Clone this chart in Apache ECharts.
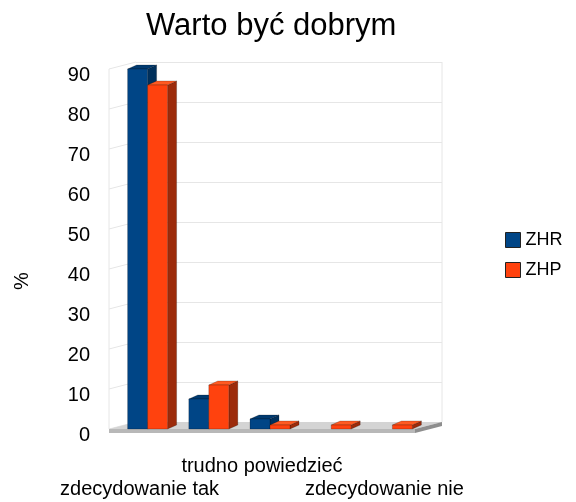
<!DOCTYPE html>
<html>
<head>
<meta charset="utf-8">
<script src="https://cdn.jsdelivr.net/npm/echarts@6/dist/echarts.min.js"></script>
<style>
  html, body { margin: 0; padding: 0; background: #fff; }
  #main { width: 576px; height: 502px; }
</style>
</head>
<body>
<div id="main"></div>
<script>
// Warto być dobrym - ZHR / ZHP

var categories = ["zdecydowanie tak", "raczej tak", "trudno powiedzieć", "raczej nie", "zdecydowanie nie"];
var zhr = [90, 7.5, 2.5, 0, 0];
var zhp = [86, 11, 1, 1, 1];
var yTicks = [0, 10, 20, 30, 40, 50, 60, 70, 80, 90];

var chartDom = document.getElementById("main");
var myChart = echarts.init(chartDom);

// pseudo 3D look
var BAR_W = 20;
var SHIFT = 8;
var BDX = 9, BDY = -4;   // bar depth
var WDX = 27, WDY = -7;  // floor / wall depth

function barRenderer(idx, front, top, side) {
  return function (params, api) {
    var cat = api.value(0);
    var val = api.value(1);
    if (!val) return;
    var p1 = api.coord([cat, val]);
    var p0 = api.coord([cat, 0]);
    var x0 = p0[0] + SHIFT + (idx === 0 ? -BAR_W : 0);
    var x1 = x0 + BAR_W;
    var y0 = p0[1], y1 = p1[1];
    var line = { stroke: "rgba(0,0,0,0.35)", lineWidth: 0.6 };
    return {
      type: "group",
      children: [
        {
          type: "polygon",
          shape: { points: [[x1, y0], [x1, y1], [x1 + BDX, y1 + BDY], [x1 + BDX, y0 + BDY]] },
          style: Object.assign({ fill: side }, line)
        },
        {
          type: "polygon",
          shape: { points: [[x0, y1], [x1, y1], [x1 + BDX, y1 + BDY], [x0 + BDX, y1 + BDY]] },
          style: Object.assign({ fill: top }, line)
        },
        {
          type: "rect",
          shape: { x: x0, y: y1, width: BAR_W, height: y0 - y1 },
          style: Object.assign({ fill: front }, line)
        }
      ]
    };
  };
}

function floorRenderer(params, api) {
  var band = api.size([1, 0])[0];
  var a = api.coord([0, 0]);
  var b = api.coord([categories.length - 1, 0]);
  var xl = a[0] - band / 2, xr = b[0] + band / 2, y0 = a[1];
  return {
    type: "group",
    children: [
      {
        type: "polygon",
        shape: { points: [[xl, y0], [xr, y0], [xr + WDX, y0 + WDY], [xl + WDX, y0 + WDY]] },
        style: { fill: "#d4d4d4" }
      },
      {
        type: "rect",
        shape: { x: xl, y: y0, width: xr - xl, height: 4 },
        style: { fill: "#b8b8b8" }
      },
      {
        type: "polygon",
        shape: { points: [[xr, y0], [xr + WDX, y0 + WDY], [xr + WDX, y0 + WDY + 4], [xr, y0 + 4]] },
        style: { fill: "#8e8e8e" }
      }
    ]
  };
}

function wallRenderer(params, api) {
  var band = api.size([1, 0])[0];
  var v = api.value(1);
  var p = api.coord([0, v]);
  var p0 = api.coord([0, 0]);
  var pr = api.coord([categories.length - 1, v]);
  var xl = p[0] - band / 2;
  var xr = pr[0] + band / 2;
  var st = { stroke: "#e6e6e6", lineWidth: 1 };
  var kids = [
    { type: "line", shape: { x1: xl, y1: p[1], x2: xl + WDX, y2: p[1] + WDY }, style: st }
  ];
  if (v === yTicks[yTicks.length - 1]) {
    kids.push({ type: "line", shape: { x1: xl, y1: p[1], x2: xl, y2: p0[1] }, style: st });
    kids.push({ type: "line", shape: { x1: xr + WDX, y1: p[1] + WDY, x2: xr + WDX, y2: p0[1] + WDY }, style: st });
  }
  return { type: "group", children: kids };
}

var catLabel = { fontSize: 20, color: "#000" };

var option = {
  textStyle: { fontFamily: "Liberation Sans" },
  title: {
    text: "Warto być dobrym",
    left: 141,
    top: 6,
    textStyle: { fontSize: 31, fontWeight: "normal", color: "#000", fontFamily: "Liberation Sans" }
  },
  legend: {
    orient: "vertical",
    left: 500,
    top: 226,
    itemWidth: 15,
    itemHeight: 15,
    itemGap: 12,
    icon: "rect",
    itemStyle: { borderColor: "#222", borderWidth: 1 },
    textStyle: { fontSize: 18, color: "#000" },
    data: ["ZHR", "ZHP"]
  },
  graphic: [
    {
      type: "text",
      x: 12,
      y: 290,
      rotation: Math.PI / 2,
      style: { text: "%", fontSize: 20, fill: "#000", fontFamily: "Liberation Sans" }
    }
  ],
  grid: [
    // front plane (bars)
    { left: 109, right: 161, top: 69, bottom: 73 },
    // back wall
    { left: 136, right: 134, top: 62, bottom: 80 },
    // axis labels
    { left: 109, right: 161, top: 75, bottom: 67 }
  ],
  xAxis: [
    {
      type: "category",
      gridIndex: 0,
      position: "bottom",
      data: categories,
      axisLine: { show: false },
      axisTick: { show: false },
      axisLabel: Object.assign({
        interval: function (index) { return index === 2; },
        margin: 27
      }, catLabel)
    },
    { type: "category", gridIndex: 1, data: categories, show: false },
    { type: "category", gridIndex: 2, data: categories, show: false },
    {
      // second (staggered) row of category labels
      type: "category",
      gridIndex: 0,
      position: "bottom",
      offset: 0,
      data: categories,
      axisLine: { show: false },
      axisTick: { show: false },
      splitLine: { show: false },
      axisLabel: Object.assign({
        interval: function (index) { return index === 0 || index === 4; },
        margin: 50
      }, catLabel)
    }
  ],
  yAxis: [
    { type: "value", gridIndex: 0, min: 0, max: 90, interval: 10, show: false },
    {
      type: "value",
      gridIndex: 1,
      min: 0,
      max: 90,
      interval: 10,
      axisLabel: { show: false },
      axisLine: { show: false },
      axisTick: { show: false },
      splitLine: { lineStyle: { color: "#e6e6e6" } }
    },
    {
      type: "value",
      gridIndex: 2,
      min: 0,
      max: 90,
      interval: 10,
      axisLine: { show: false },
      axisTick: { show: false },
      splitLine: { show: false },
      axisLabel: { fontSize: 20, color: "#000", margin: 19 }
    }
  ],
  series: [
    {
      type: "custom",
      name: "wall",
      xAxisIndex: 0,
      yAxisIndex: 0,
      silent: true,
      clip: false,
      renderItem: wallRenderer,
      data: yTicks.map(function (v) { return [0, v]; }),
      z: 1
    },
    {
      type: "custom",
      name: "floor",
      xAxisIndex: 0,
      yAxisIndex: 0,
      silent: true,
      clip: false,
      renderItem: floorRenderer,
      data: [[0, 0]],
      z: 2
    },
    {
      type: "custom",
      name: "ZHR",
      xAxisIndex: 0,
      yAxisIndex: 0,
      clip: false,
      itemStyle: { color: "#004586" },
      renderItem: barRenderer(0, "#004586", "#003a70", "#00305c"),
      encode: { x: 0, y: 1 },
      data: zhr.map(function (v, i) { return [i, v]; }),
      z: 3
    },
    {
      type: "custom",
      name: "ZHP",
      xAxisIndex: 0,
      yAxisIndex: 0,
      clip: false,
      itemStyle: { color: "#ff420e" },
      renderItem: barRenderer(1, "#ff420e", "#ff5a22", "#9c2b0b"),
      encode: { x: 0, y: 1 },
      data: zhp.map(function (v, i) { return [i, v]; }),
      z: 4
    }
  ]
};

option && myChart.setOption(option);
</script>
</body>
</html>
